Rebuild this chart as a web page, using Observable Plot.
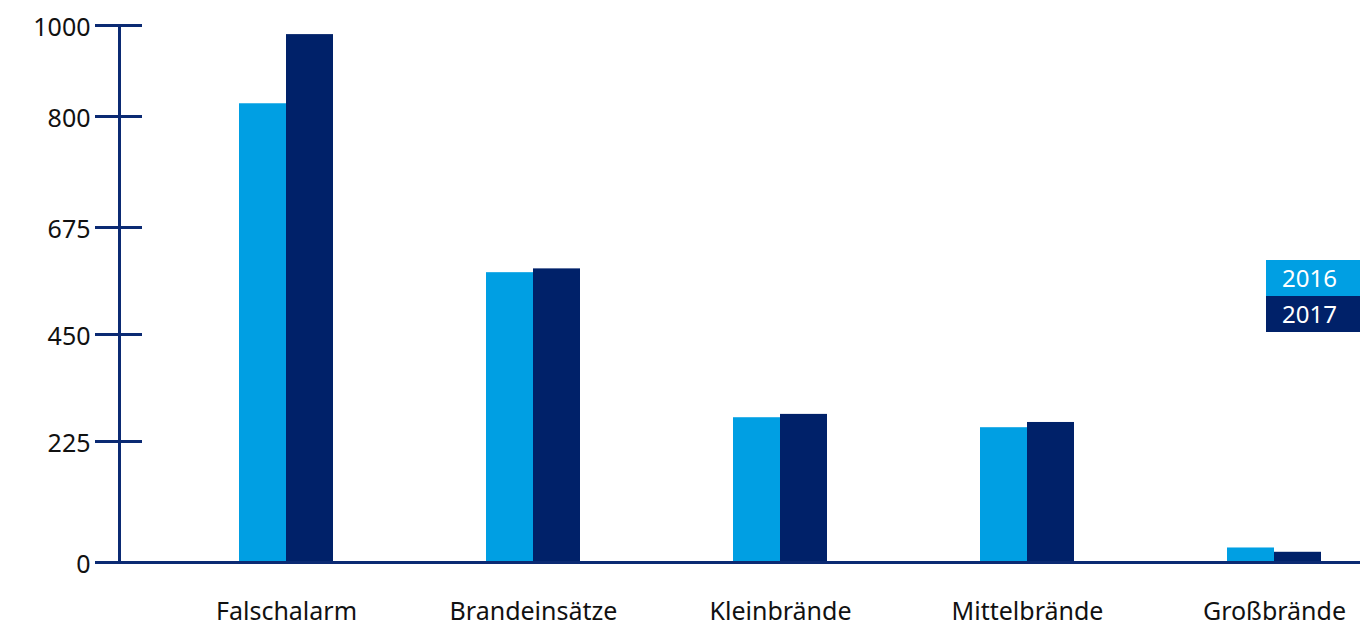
<!DOCTYPE html>
<html>
<head>
<meta charset="utf-8">
<script src="https://cdn.jsdelivr.net/npm/d3@7"></script>
<script src="https://cdn.jsdelivr.net/npm/@observablehq/plot@0.6"></script>
<style>
  html, body { margin: 0; padding: 0; background: #fff; }
  #chart { position: relative; width: 1367px; height: 627px; font-family: "Noto Sans", sans-serif; }
  #legend { position: absolute; left: 1266px; top: 260px; width: 94px; }
  #legend div { height: 36px; line-height: 36px; padding-left: 16px; color: #fff; font-size: 24px; box-sizing: border-box; }
</style>
</head>
<body>
<div id="chart"><div id="legend"></div></div>
<script>
// Einsatzarten der Feuerwehr, 2016 vs. 2017
const categories = ["Falschalarm", "Brandeinsätze", "Kleinbrände", "Mittelbrände", "Großbrände"];
const years = ["2016", "2017"];
const values2016 = [828, 580, 275, 254, 27];
const values2017 = [980, 588, 282, 265, 19];
const yTicks = [0, 225, 450, 675, 800, 1000];
const colors = ["#009fe3", "#002169"];

const navy = "#0b2a73";
const W = 1367, H = 627;
const marginLeft = 119, marginRight = 7, marginTop = 25, marginBottom = 65;
const frameW = W - marginLeft - marginRight;
const halfBand = 47;

const rows = categories.flatMap((c, i) => [
  {category: c, year: years[0], count: values2016[i]},
  {category: c, year: years[1], count: values2017[i]}
]);

const chart = Plot.plot({
  width: W,
  height: H,
  marginLeft, marginRight, marginTop, marginBottom,
  style: {fontFamily: "Noto Sans, sans-serif", background: "transparent"},
  x: {type: "band", domain: categories, range: [237.5, 1321.5], paddingInner: 0.62, paddingOuter: 0, axis: null},
  // the value axis is stretched piecewise between its labelled ticks
  y: {type: "linear", domain: yTicks, range: [562, 441, 334, 227, 116, 25], axis: null},
  marks: [
    Plot.barY(rows.filter(d => d.year === years[0]), {x: "category", y: "count", fill: colors[0], insetRight: halfBand}),
    Plot.barY(rows.filter(d => d.year === years[1]), {x: "category", y: "count", fill: colors[1], insetLeft: halfBand}),
    // vertical axis line
    Plot.frame({anchor: "left", stroke: navy, strokeWidth: 3}),
    // tick marks crossing the axis
    Plot.ruleY(yTicks, {y: d => d, insetLeft: -24, insetRight: frameW - 23, stroke: navy, strokeWidth: 3}),
    // baseline
    Plot.ruleY([0], {insetLeft: -21, stroke: navy, strokeWidth: 3}),
    Plot.text(yTicks, {y: d => d, text: d => String(d), frameAnchor: "left", textAnchor: "end", dx: -29, dy: 2, fontSize: 25, fill: "#111"}),
    Plot.text(categories, {x: d => d, text: d => d, frameAnchor: "bottom", dy: 57, fontSize: 25, fill: "#111"})
  ]
});

const host = document.getElementById("chart");
host.insertBefore(chart, host.firstChild);

const legend = d3.select("#legend");
years.forEach((y, i) => legend.append("div").style("background", colors[i]).text(y));
</script>
</body>
</html>
